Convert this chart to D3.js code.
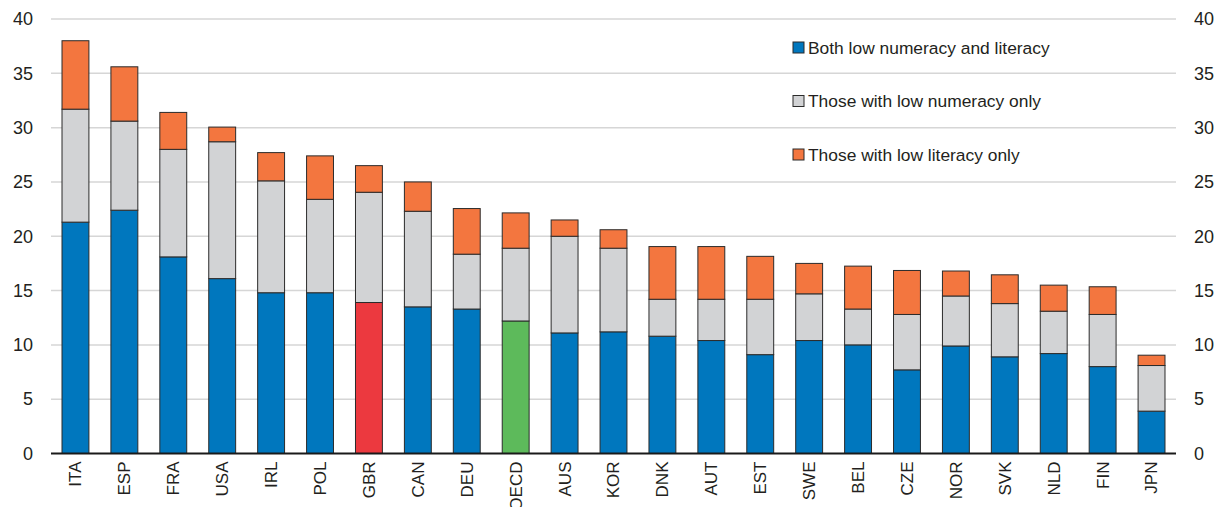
<!DOCTYPE html>
<html><head><meta charset="utf-8">
<script src="https://cdn.jsdelivr.net/npm/d3@7"></script>
<style>body{margin:0;background:#fff}svg{display:block}text{font-family:"Liberation Sans",Arial,sans-serif;fill:#231f20}</style>
</head><body><svg id="c" width="1221" height="507"></svg>
<script>
const categories = ["ITA","ESP","FRA","USA","IRL","POL","GBR","CAN","DEU","OECD","AUS","KOR","DNK","AUT","EST","SWE","BEL","CZE","NOR","SVK","NLD","FIN","JPN"];
const bothLow     = [21.3,22.4,18.1,16.1,14.8,14.8,13.9,13.5,13.3,12.2,11.1,11.2,10.8,10.4,9.1,10.4,10.0,7.7,9.9,8.9,9.2,8.0,3.9];
const numeracyOnly= [10.4,8.2,9.9,12.6,10.3,8.6,10.15,8.8,5.05,6.7,8.9,7.7,3.4,3.8,5.1,4.3,3.3,5.1,4.6,4.9,3.9,4.8,4.2];
const literacyOnly= [6.3,5.0,3.4,1.35,2.6,4.0,2.45,2.7,4.2,3.25,1.5,1.7,4.85,4.85,3.95,2.8,3.95,4.05,2.3,2.65,2.4,2.55,0.95];
const seriesNames = ["Both low numeracy and literacy","Those with low numeracy only","Those with low literacy only"];
const yTicks = [0,5,10,15,20,25,30,35,40];

const colors = ["#0077be","#d2d3d5","#f3763f"];
const highlight = {GBR:"#ec393f", OECD:"#5dba5b"};

const svg = d3.select("#c");
const L = 51, R = 1176, T = 19, B = 453.5;
const x = d3.scaleBand().domain(categories).range([L,R]).paddingInner(0.45).paddingOuter(0.225);
const y = d3.scaleLinear().domain([0,40]).range([B,T]);

// gridlines
svg.append("g").selectAll("line").data(yTicks.filter(d=>d>0)).join("line")
  .attr("x1",L).attr("x2",R).attr("y1",d=>y(d)).attr("y2",d=>y(d))
  .attr("stroke","#d6d6d6").attr("stroke-width",1.5);

const rows = categories.map((c,i)=>({cat:c, s0:bothLow[i], s1:numeracyOnly[i], s2:literacyOnly[i]}));
const stack = d3.stack().keys(["s0","s1","s2"])(rows);

svg.append("g").selectAll("g").data(stack).join("g")
  .each(function(layer,k){
    d3.select(this).selectAll("rect").data(layer).join("rect")
      .attr("x",d=>x(d.data.cat)).attr("width",x.bandwidth())
      .attr("y",d=>y(d[1])).attr("height",d=>y(d[0])-y(d[1]))
      .attr("fill",d=> (k===0 && highlight[d.data.cat]) ? highlight[d.data.cat] : colors[k])
      .attr("stroke","#2b2b2b").attr("stroke-width",1);
  });

// axis baseline
svg.append("line").attr("x1",L).attr("x2",R).attr("y1",y(0)).attr("y2",y(0)).attr("stroke","#1a1a1a").attr("stroke-width",2);

// left axis
const yl = svg.append("g").attr("transform",`translate(${L},0)`).call(d3.axisLeft(y).tickValues(yTicks).tickSize(0).tickPadding(18));
yl.select(".domain").remove();
yl.selectAll("text").attr("font-size",18).style("font-family","Liberation Sans, Arial").attr("fill","#231f20");
const yr = svg.append("g").attr("transform",`translate(${R},0)`).call(d3.axisRight(y).tickValues(yTicks).tickSize(0).tickPadding(18));
yr.select(".domain").remove();
yr.selectAll("text").attr("font-size",18).style("font-family","Liberation Sans, Arial").attr("fill","#231f20");

// x labels
const xa = svg.append("g").attr("transform",`translate(0,${y(0)})`).call(d3.axisBottom(x).tickSize(0).tickPadding(0));
xa.select(".domain").remove();
xa.selectAll("text").attr("font-size",17).style("font-family","Liberation Sans, Arial").attr("fill","#231f20")
  .attr("text-anchor","end").attr("dy","0.35em")
  .attr("transform","translate(0,8) rotate(-90)").attr("x",0).attr("y",0);

// legend
const lg = svg.append("g").attr("transform","translate(793,42)");
seriesNames.forEach((n,i)=>{
  const g = lg.append("g").attr("transform",`translate(0,${i*53.5})`);
  g.append("rect").attr("width",11).attr("height",11).attr("fill",colors[i]).attr("stroke","#2b2b2b").attr("stroke-width",1);
  g.append("text").attr("x",15).attr("y",5.5).attr("dy","0.35em").attr("font-size",17.4).text(n);
});
</script></body></html>
